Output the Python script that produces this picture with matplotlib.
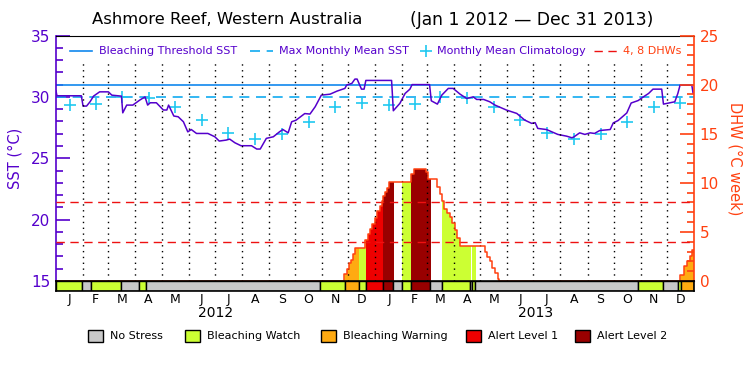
import numpy as np
import matplotlib.pyplot as plt
import matplotlib.transforms as mtransforms
from matplotlib.patches import Rectangle
from matplotlib.lines import Line2D

# dias contados a partir de 1 jan 2012
sst_day = [0, 1, 2, 29, 31, 35, 39, 43, 50, 60, 64, 75, 76.5, 81, 88, 96, 102, 105, 108, 115,
           123, 127, 129, 135, 140, 146, 151, 155, 161, 174, 182, 187, 195, 199, 205, 212, 224,
           230, 234, 241, 249, 256, 260, 266, 270, 275, 285, 291, 297, 304, 314, 322, 331, 333,
           339, 342.5, 345, 350, 353, 355, 384.5, 386.5, 394, 400, 405.5, 408, 428, 430, 437,
           442, 449.5, 455, 463, 470.5, 478, 482, 490, 497, 503, 516, 528, 537, 545, 549, 552,
           562, 575, 585, 591, 593, 600, 606, 612, 617, 623, 635, 638.5, 644, 654, 659, 667,
           673, 679, 684, 694, 696, 703.5, 709, 712.5, 715, 728.5, 730]
sst_val = [30.5, 30.1, 30.09, 30.09, 29.25, 29.25, 29.6, 30.06, 30.41, 30.41, 30.14, 30.06, 28.7,
           29.33, 29.33, 29.74, 30.0, 29.33, 29.52, 29.52, 28.93, 28.93, 29.33, 28.44, 28.38,
           27.97, 27.15, 27.34, 27.02, 27.02, 26.75, 26.4, 26.48, 26.56, 26.26, 26.02, 26.02,
           25.75, 25.75, 26.62, 26.75, 27.15, 27.34, 27.07, 27.97, 28.1, 28.64, 28.6, 29.2,
           30.14, 30.22, 30.47, 30.69, 30.96, 31.1, 31.45, 31.45, 30.63, 30.63, 31.34, 31.34,
           28.87, 29.47, 30.28, 30.63, 31.0, 31.0, 29.68, 29.41, 30.14, 30.69, 30.69, 30.22,
           29.87, 30.0, 29.79, 29.79, 29.6, 29.33, 28.93, 28.65, 28.11, 27.84, 27.9, 27.43,
           27.34, 26.94, 26.8, 26.67, 26.72, 27.07, 26.94, 27.07, 27.02, 27.26, 27.34, 27.88,
           28.07, 28.69, 29.5, 29.7, 30.0, 30.28, 30.63, 30.63, 29.41, 29.52, 29.6, 30.28,
           30.95, 30.95, 30.28]

clim_month = [29.33, 29.39, 29.97, 29.88, 29.14, 28.08, 27.03, 26.55, 26.95, 27.97, 29.14, 29.52]
clim_val = clim_month * 2
mmm = 29.95
threshold = 30.95

dhw_day = [0, 330, 333, 336, 338.5, 340.5, 343, 354, 357, 360, 362, 365, 368, 371, 373, 375, 377,
           379, 382, 407, 410, 424, 426, 437, 439.5, 442, 445, 448, 451, 454, 457, 460, 463, 491,
           494, 497, 500, 503, 506, 508, 715, 719, 723, 726, 729, 731]
dhw_val = [0, 0.7, 1.2, 1.8, 2.1, 2.7, 3.4, 4.2, 4.8, 5.3, 5.8, 6.4, 7.1, 7.6, 8.1, 8.7, 9.1,
           9.5, 10.1, 10.9, 11.4, 11.1, 10.4, 9.6, 8.9, 8.1, 7.3, 6.9, 6.5, 5.9, 5.2, 4.4, 3.6, 3.0,
           2.4, 2.0, 1.3, 0.8, 0.2, 0, 0.6, 1.5, 2.0, 2.5, 3.2, 3.2]
dhw_lines = [4, 8]

alert_start = [0, 30, 39.7, 74.5, 95.5, 102.7, 303, 330.7, 347.5, 354.8, 375, 386.5, 396.5, 407,
               429, 442.5, 474, 477, 480.5, 667.2, 695, 712.3, 716]
alert_level = [1, 0, 1, 0, 1, 0, 1, 2, 1, 3, 4, 0, 1, 4, 0, 1, 0, 1, 0, 1, 0, 1, 2]
alert_names = ['No Stress', 'Bleaching Watch', 'Bleaching Warning', 'Alert Level 1', 'Alert Level 2']
alert_colors = ['#c8c8c8', '#ccff33', '#ffaa11', '#ee0000', '#990000']

month_letters = list('JFMAMJJASOND') * 2
years = ['2012', '2013']

purple = '#5500cc'
orange = '#ff4010'
ndays = 731

month_start = (np.arange('2012-01', '2014-02', dtype='datetime64[M]').astype('datetime64[D]')
               - np.datetime64('2012-01-01')).astype(int)
month_mid = (month_start[:-1] + month_start[1:]) / 2

W, H = 750, 375
fig = plt.figure(figsize=(7.5, 3.75), dpi=100)


def fx(px):
    return px / W


def fy(py):
    return 1 - py / H


x0, x1, ytop, ybot, ystrip = 56, 694, 35.5, 281, 291
ax = fig.add_axes([fx(x0), fy(ybot), fx(x1 - x0), (ybot - ytop) / H])
ax_s = fig.add_axes([fx(x0), fy(ystrip), fx(x1 - x0), (ystrip - ybot) / H])
ax2 = ax.twinx()
ax_s.set_zorder(5)

# SST
ax.set_xlim(0, ndays)
ax.set_ylim(15, 35)
ax.axhline(threshold, color='#1188ee', lw=1.2, zorder=2)
ax.axhline(mmm, color='#10aaf0', lw=1.2, dashes=(6, 4), zorder=2)
ax.plot(month_mid, clim_val, '+', color='#20c8f0', ms=8, mew=1.2, zorder=3)
ax.plot(sst_day, sst_val, color=purple, lw=1.1, zorder=4)
ax.set_yticks(range(15, 36, 5))
ax.set_yticks(range(15, 36), minor=True)
ax.set_xticks([])
ax.tick_params(axis='y', which='both', direction='in', color=purple, labelcolor=purple,
               labelsize=11, width=1.2)
ax.tick_params(axis='y', which='major', length=10, pad=4)
ax.tick_params(axis='y', which='minor', length=5)
ax.spines['left'].set_color(purple)
ax.spines['left'].set_linewidth(1.2)
ax.spines['top'].set_color('black')
ax.spines['right'].set_visible(False)
ax.set_ylabel('SST (°C)', color=purple, fontsize=10.5)
ax.yaxis.set_label_coords(-0.052, 0.5)

# DHW
ax2.set_ylim(0, 25)
for s, lev, w in zip(alert_start, alert_level, np.diff(alert_start + [ndays])):
    if lev == 0:
        continue
    f = ax2.fill_between(dhw_day, 0, dhw_val, step='post', color=alert_colors[lev], lw=0, zorder=1)
    f.set_clip_path(Rectangle((s, 0), w, 30, transform=ax2.transData))
for m in month_start[1:-1]:
    ax2.axvline(m, 0, 0.89, color='black', lw=1, dashes=(1, 3.2), zorder=2)
for d in dhw_lines:
    ax2.axhline(d, color='#ee1111', lw=1, dashes=(6, 4), zorder=3)
ax2.step(dhw_day, dhw_val, where='post', color=orange, lw=1.1, zorder=4)
ax2.set_yticks(range(0, 26, 5))
ax2.set_yticks(range(0, 26), minor=True)
ax2.tick_params(axis='y', which='both', direction='in', color=orange, labelcolor=orange,
                labelsize=11, width=1.2)
ax2.tick_params(axis='y', which='major', length=10, pad=4)
ax2.tick_params(axis='y', which='minor', length=5)
for sp in ['left', 'top', 'bottom']:
    ax2.spines[sp].set_visible(False)
ax2.spines['right'].set_color(orange)
ax2.spines['right'].set_linewidth(1.2)
ax2.set_ylabel('DHW (°C week)', color=orange, fontsize=10.5, rotation=-90)
ax2.yaxis.set_label_coords(1.076, 0.5)

# faixa de alertas
ax_s.barh(0, np.diff(alert_start + [ndays]), left=alert_start, height=1,
          color=[alert_colors[l] for l in alert_level], edgecolor='black', lw=1)
ax_s.set_xlim(0, ndays)
ax_s.set_ylim(-0.5, 0.5)
ax_s.set_yticks([])
ax_s.set_xticks(month_mid)
ax_s.set_xticklabels(month_letters, fontsize=9)
ax_s.tick_params(axis='x', length=0, pad=1.5)
for sp in ax_s.spines.values():
    sp.set_linewidth(1.2)
tr = mtransforms.blended_transform_factory(ax_s.transData, ax_s.transAxes)
for i, y in enumerate(years):
    ax_s.text(month_start[12 * i] + 183, -2.2, y, transform=tr, ha='center', va='center',
              fontsize=10)

# título
fig.text(fx(92), fy(20), 'Ashmore Reef, Western Australia', fontsize=11.8, va='center')
fig.text(fx(410), fy(20), '(Jan 1 2012 — Dec 31 2013)', fontsize=12.3, va='center')

# legenda superior
ly = fy(51)
fig.add_artist(Line2D([fx(70), fx(92)], [ly, ly], color='#1188ee', lw=1.2))
fig.text(fx(99), ly, 'Bleaching Threshold SST', color=purple, fontsize=8, va='center')
fig.add_artist(Line2D([fx(250), fx(273)], [ly, ly], color='#10aaf0', lw=1.2, dashes=(6, 4)))
fig.text(fx(279), ly, 'Max Monthly Mean SST', color=purple, fontsize=8, va='center')
fig.add_artist(Line2D([fx(426)], [ly], marker='+', color='#20c8f0', ms=8, mew=1.2))
fig.text(fx(437), ly, 'Monthly Mean Climatology', color=purple, fontsize=8, va='center')
fig.add_artist(Line2D([fx(594), fx(618)], [ly, ly], color='#ee1111', lw=1, dashes=(6, 4)))
fig.text(fx(623), ly, '4, 8 DHWs', color=orange, fontsize=8, va='center')

# legenda inferior
box_x = [88, 185, 321, 466, 575]
for bx, name, c in zip(box_x, alert_names, alert_colors):
    fig.add_artist(Rectangle((fx(bx), fy(342)), 15 / W, 12 / H, facecolor=c,
                             edgecolor='black', lw=1, transform=fig.transFigure))
    fig.text(fx(bx + 22), fy(336), name, fontsize=8, va='center')

fig.savefig('out.png', dpi=100)
